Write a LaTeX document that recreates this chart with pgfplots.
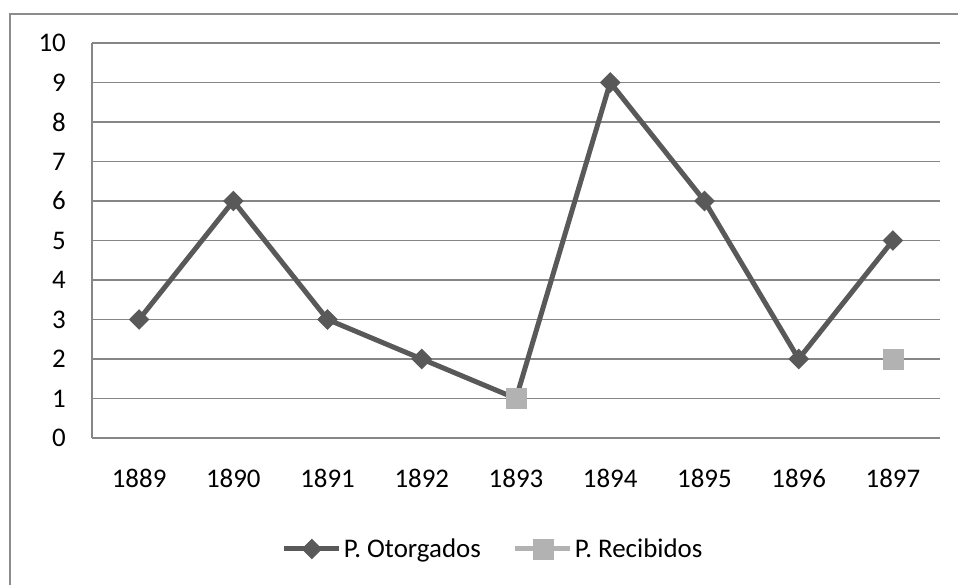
\documentclass[border=0pt]{standalone}
\usepackage{fontspec}
\setmainfont{Carlito}
\usepackage{pgfplots}
\pgfplotsset{compat=1.18}
\definecolor{serA}{HTML}{595959}
\definecolor{serB}{HTML}{B2B2B2}
\definecolor{gridc}{HTML}{868686}
\definecolor{framec}{HTML}{8C8C8C}
\begin{document}
\begin{tikzpicture}[x=1bp,y=1bp]
\useasboundingbox (0,0) rectangle (958,585);
\draw[framec, line width=2.5bp] (10,-5) -- (10,571) -- (965,571);
\begin{axis}[
  at={(92bp,147bp)}, anchor=south west,
  width=848bp, height=395bp, scale only axis,
  xmin=-0.5, xmax=8.5, ymin=0, ymax=10,
  xtick={0,...,8},
  xticklabels={1889,1890,1891,1892,1893,1894,1895,1896,1897},
  ytick={0,...,10},
  axis x line*=bottom, axis y line*=left,
  axis line style={gridc, line width=1.5bp, -},
  major tick length=0pt,
  ymajorgrids, grid style={gridc, line width=1.5bp},
  /pgf/number format/assume math mode=true,
  tick label style={font=\fontsize{27}{31}\selectfont, text=black},
  xticklabel style={anchor=base, yshift=-50bp, inner sep=0pt},
  yticklabel style={anchor=east, xshift=-26bp, inner sep=0pt},
  unbounded coords=jump,
  clip=false,
  legend columns=2,
  legend style={draw=none, fill=none, font=\fontsize{27}{31}\selectfont,
    at={(axis description cs:0.473,-0.281)}, anchor=center,
    /tikz/every even column/.append style={column sep=30bp},
    inner sep=0pt},
  legend image code/.code={%
    \draw[#1, mark repeat=2, mark phase=2] plot coordinates {(0bp,0bp) (27.5bp,0bp) (55bp,0bp)};},
]
\addplot[color=serA, line width=5bp, mark=square*, mark size=6.8bp,
  mark options={rotate=45, solid, fill=serA, draw=serA, line width=1bp}]
  coordinates {(0,3) (1,6) (2,3) (3,2) (4,1) (5,9) (6,6) (7,2) (8,5)};
\addlegendentry{P. Otorgados}
\addplot[color=serB, line width=5bp, mark=square*, mark size=10bp,
  mark options={solid, fill=serB, draw=serB, line width=0.5bp}]
  coordinates {(4,1) (5,nan) (8,2)};
\addlegendentry{P. Recibidos}
\end{axis}
\end{tikzpicture}
\end{document}
